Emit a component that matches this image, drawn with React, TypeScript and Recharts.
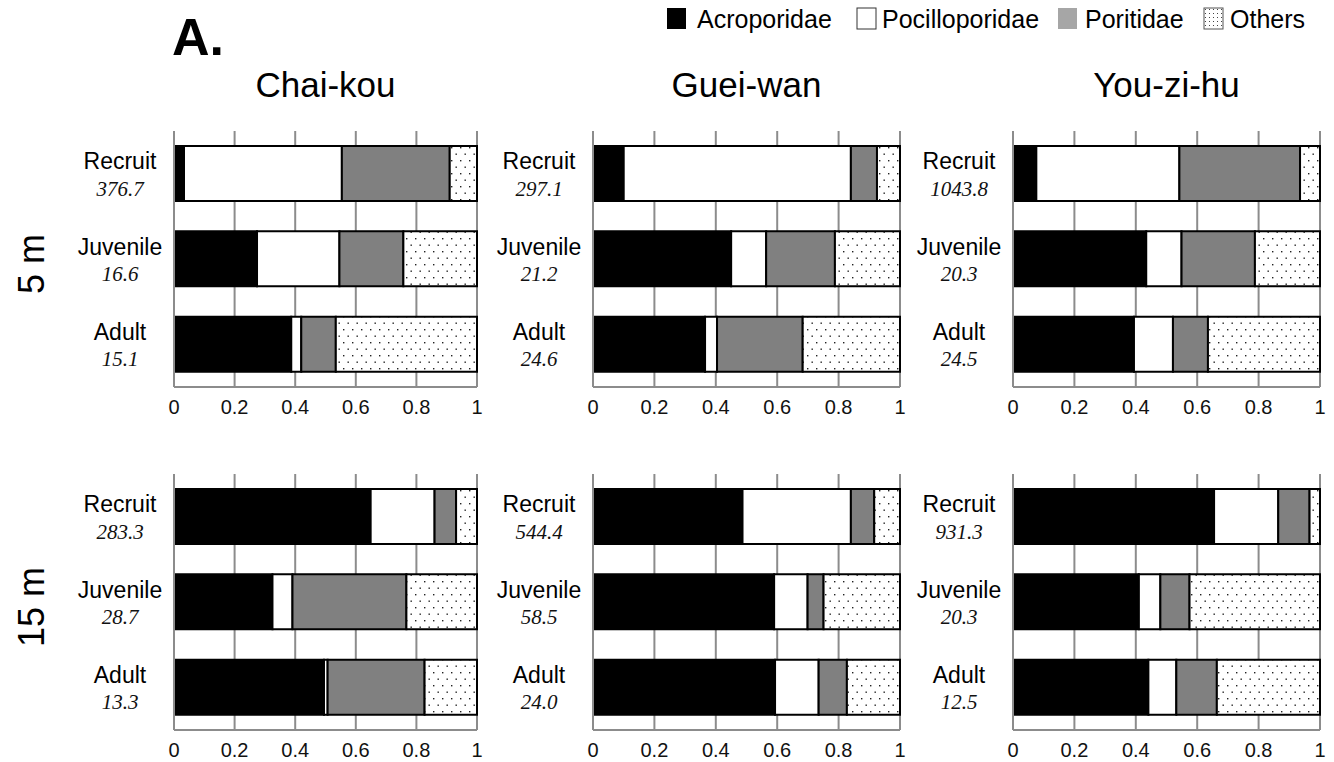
import { Bar, BarChart, CartesianGrid, XAxis, YAxis } from "recharts";

const SANS = "'Liberation Sans', Arial, sans-serif";
const SERIF = "'Liberation Serif', 'Times New Roman', serif";

const stages = ["Recruit", "Juvenile", "Adult"];
const sites = ["Chai-kou", "Guei-wan", "You-zi-hu"];
const depths = ["5 m", "15 m"];
const xTicks = [0, 0.2, 0.4, 0.6, 0.8, 1];

// [depth][site][stage] proportions
const acroporidae = [
	[
		[0.033, 0.274, 0.387],
		[0.1, 0.45, 0.365],
		[0.076, 0.434, 0.394],
	],
	[
		[0.649, 0.325, 0.495],
		[0.487, 0.59, 0.593],
		[0.655, 0.41, 0.441],
	],
];
const pocilloporidae = [
	[
		[0.521, 0.272, 0.033],
		[0.74, 0.114, 0.039],
		[0.466, 0.115, 0.127],
	],
	[
		[0.211, 0.066, 0.012],
		[0.353, 0.109, 0.142],
		[0.209, 0.07, 0.091],
	],
];
const poritidae = [
	[
		[0.356, 0.211, 0.114],
		[0.085, 0.224, 0.279],
		[0.393, 0.239, 0.114],
	],
	[
		[0.071, 0.376, 0.32],
		[0.076, 0.052, 0.092],
		[0.102, 0.095, 0.132],
	],
];
const others = [
	[
		[0.09, 0.243, 0.466],
		[0.075, 0.212, 0.317],
		[0.065, 0.212, 0.365],
	],
	[
		[0.069, 0.233, 0.173],
		[0.084, 0.249, 0.173],
		[0.034, 0.425, 0.336],
	],
];
// densities shown under the stage labels
const density = [
	[
		[376.7, 16.6, 15.1],
		[297.1, 21.2, 24.6],
		[1043.8, 20.3, 24.5],
	],
	[
		[283.3, 28.7, 13.3],
		[544.4, 58.5, 24.0],
		[931.3, 20.3, 12.5],
	],
];

// layout of plot areas
const colLeft = [174, 593, 1013];
const colRight = [477, 900, 1320];
const rowTop = [131, 474];
const rowBottom = [387, 730];
const Y_W = 130;
const X_H = 32;
const R_PAD = 16;
const GRID = "#8c8c8c";

const StageTick = (props: any) => {
	const { x, y, payload, dens } = props;
	const i = stages.indexOf(payload.value);
	return (
		<g>
			<text
				x={x - 54}
				y={y - 4.5}
				textAnchor="middle"
				fontFamily={SANS}
				fontSize={23}
				fill="#000"
			>
				{payload.value}
			</text>
			<text
				x={x - 54}
				y={y + 22}
				textAnchor="middle"
				fontFamily={SERIF}
				fontStyle="italic"
				fontSize={21}
				fill="#111"
			>
				{dens[i].toFixed(1)}
			</text>
		</g>
	);
};

const Panel = ({ d, s }: { d: number; s: number }) => {
	const L = colLeft[s];
	const R = colRight[s];
	const T = rowTop[d];
	const B = rowBottom[d];
	const rows = stages.map((stage, i) => ({
		stage,
		acro: acroporidae[d][s][i],
		poci: pocilloporidae[d][s][i],
		pori: poritidae[d][s][i],
		other: others[d][s][i],
	}));
	const pid = `dots-${d}-${s}`;
	return (
		<div style={{ position: "absolute", left: L - Y_W, top: T }}>
			<BarChart
				width={Y_W + (R - L) + R_PAD}
				height={B - T + X_H}
				data={rows}
				layout="vertical"
				margin={{ top: 0, right: R_PAD, bottom: 0, left: 0 }}
				barSize={55}
			>
				<defs>
					<pattern
						id={pid}
						width="9"
						height="13"
						patternUnits="userSpaceOnUse"
					>
						<rect width="9" height="13" fill="#fff" />
						<rect x="2" y="3" width="1.4" height="1.4" fill="#222" />
						<rect x="6.5" y="9.5" width="1.4" height="1.4" fill="#222" />
					</pattern>
				</defs>
				<CartesianGrid horizontal={false} stroke={GRID} strokeWidth={2} />
				<XAxis
					type="number"
					domain={[0, 1]}
					ticks={xTicks}
					interval={0}
					height={X_H}
					axisLine={{ stroke: GRID, strokeWidth: 2 }}
					tickLine={false}
					tickMargin={7}
					tick={{ fontSize: 20, fill: "#111", fontFamily: SANS }}
				/>
				<YAxis
					type="category"
					dataKey="stage"
					width={Y_W}
					interval={0}
					axisLine={{ stroke: GRID, strokeWidth: 2 }}
					tickLine={false}
					tickSize={0}
					tickMargin={0}
					tick={(p: any) => <StageTick {...p} dens={density[d][s]} />}
				/>
				<Bar dataKey="acro" stackId="a" fill="#000" stroke="#000" strokeWidth={2} isAnimationActive={false} />
				<Bar dataKey="poci" stackId="a" fill="#fff" stroke="#000" strokeWidth={2} isAnimationActive={false} />
				<Bar dataKey="pori" stackId="a" fill="#808080" stroke="#000" strokeWidth={2} isAnimationActive={false} />
				<Bar dataKey="other" stackId="a" fill={`url(#${pid})`} stroke="#000" strokeWidth={2} isAnimationActive={false} />
			</BarChart>
		</div>
	);
};

const legendItems = [
	{ name: "Acroporidae", fill: "#000", stroke: "none", box: 667, text: 697 },
	{ name: "Pocilloporidae", fill: "#fff", stroke: "#333", box: 857, text: 882 },
	{ name: "Poritidae", fill: "#a6a6a6", stroke: "none", box: 1058, text: 1085 },
	{ name: "Others", fill: "url(#dots-legend)", stroke: "#555", box: 1204, text: 1230 },
];

export default function App() {
	return (
		<div
			style={{
				position: "absolute",
				left: 0,
				top: 0,
				width: 1334,
				height: 762,
				background: "#fff",
				overflow: "hidden",
			}}
		>
			<svg
				width={1334}
				height={762}
				style={{ position: "absolute", left: 0, top: 0 }}
			>
				<defs>
					<pattern id="dots-legend" width="4" height="4" patternUnits="userSpaceOnUse">
						<rect width="4" height="4" fill="#fff" />
						<rect x="1" y="1" width="1" height="1" fill="#444" />
					</pattern>
				</defs>
				<text x={172} y={55} fontFamily={SANS} fontWeight="bold" fontSize={52} fill="#000">
					A.
				</text>
				{sites.map((site, s) => (
					<text
						key={site}
						x={(colLeft[s] + colRight[s]) / 2}
						y={97}
						textAnchor="middle"
						fontFamily={SANS}
						fontSize={35}
						fill="#000"
					>
						{site}
					</text>
				))}
				{depths.map((depth, d) => (
					<text
						key={depth}
						transform={`translate(44, ${(rowTop[d] + rowBottom[d]) / 2 + 5}) rotate(-90)`}
						textAnchor="middle"
						fontFamily={SANS}
						fontSize={36}
						fill="#000"
					>
						{depth}
					</text>
				))}
				{legendItems.map((it) => (
					<g key={it.name}>
						<rect
							x={it.box}
							y={8}
							width={19}
							height={21}
							fill={it.fill}
							stroke={it.stroke}
							strokeWidth={1}
						/>
						<text x={it.text} y={28} fontFamily={SANS} fontSize={25} fill="#000">
							{it.name}
						</text>
					</g>
				))}
			</svg>
			{depths.map((_, d) =>
				sites.map((site, s) => <Panel key={`${d}-${site}`} d={d} s={s} />),
			)}
		</div>
	);
}
